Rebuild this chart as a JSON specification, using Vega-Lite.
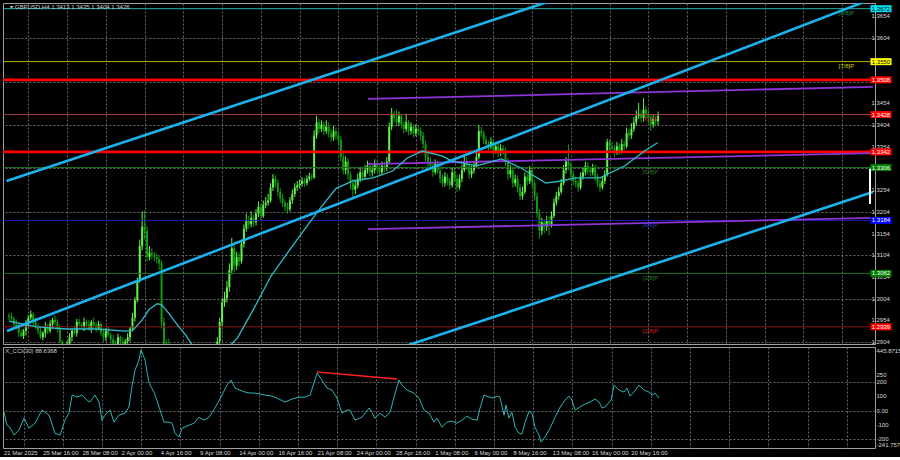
{
"$schema": "https://vega.github.io/schema/vega-lite/v6.json",
"background": "#000000",
"padding": {"left": 2, "top": 2, "right": 0, "bottom": 0},
"spacing": 3,
"bounds": "flush",
"config": {
  "view": {"fill": "#000000", "stroke": "#a0a0a0", "strokeWidth": 1},
  "font": "Liberation Sans",
  "axis": {"labels": false, "domain": false, "ticks": false, "gridColor": "#6a6a6a", "gridDash": [2, 2], "gridWidth": 1},
  "text": {"font": "Liberation Sans"},
  "legend": {"disable": true}
},
"datasets": {
  "bars": [
{"i":0,"o":1.2965,"h":1.2971,"l":1.2954,"c":1.2962},{"i":1,"o":1.2962,"h":1.2971,"l":1.2953,"c":1.2958},{"i":2,"o":1.2958,"h":1.2963,"l":1.2935,"c":1.2945},{"i":3,"o":1.2945,"h":1.2956,"l":1.2934,"c":1.2940},{"i":4,"o":1.2940,"h":1.2947,"l":1.2916,"c":1.2925},{"i":5,"o":1.2925,"h":1.2933,"l":1.2914,"c":1.2918},{"i":6,"o":1.2918,"h":1.2934,"l":1.2911,"c":1.2930},{"i":7,"o":1.2930,"h":1.2955,"l":1.2919,"c":1.2945},{"i":8,"o":1.2945,"h":1.2966,"l":1.2937,"c":1.2960},{"i":9,"o":1.2960,"h":1.2977,"l":1.2955,"c":1.2968},
{"i":10,"o":1.2968,"h":1.2973,"l":1.2940,"c":1.2950},{"i":11,"o":1.2950,"h":1.2961,"l":1.2934,"c":1.2940},{"i":12,"o":1.2940,"h":1.2947,"l":1.2921,"c":1.2930},{"i":13,"o":1.2930,"h":1.2938,"l":1.2911,"c":1.2915},{"i":14,"o":1.2915,"h":1.2929,"l":1.2908,"c":1.2925},{"i":15,"o":1.2925,"h":1.2950,"l":1.2914,"c":1.2940},{"i":16,"o":1.2940,"h":1.2946,"l":1.2922,"c":1.2930},{"i":17,"o":1.2930,"h":1.2954,"l":1.2925,"c":1.2945},{"i":18,"o":1.2945,"h":1.2960,"l":1.2935,"c":1.2955},{"i":19,"o":1.2955,"h":1.2966,"l":1.2944,"c":1.2950},
{"i":20,"o":1.2950,"h":1.2957,"l":1.2926,"c":1.2935},{"i":21,"o":1.2935,"h":1.2943,"l":1.2901,"c":1.2905},{"i":22,"o":1.2905,"h":1.2909,"l":1.2878,"c":1.2885},{"i":23,"o":1.2885,"h":1.2895,"l":1.2869,"c":1.2880},{"i":24,"o":1.2880,"h":1.2906,"l":1.2872,"c":1.2900},{"i":25,"o":1.2900,"h":1.2924,"l":1.2895,"c":1.2915},{"i":26,"o":1.2915,"h":1.2935,"l":1.2905,"c":1.2930},{"i":27,"o":1.2930,"h":1.2941,"l":1.2919,"c":1.2925},{"i":28,"o":1.2925,"h":1.2957,"l":1.2916,"c":1.2950},{"i":29,"o":1.2950,"h":1.2958,"l":1.2941,"c":1.2945},
{"i":30,"o":1.2945,"h":1.2949,"l":1.2933,"c":1.2940},{"i":31,"o":1.2940,"h":1.2960,"l":1.2929,"c":1.2950},{"i":32,"o":1.2950,"h":1.2956,"l":1.2937,"c":1.2945},{"i":33,"o":1.2945,"h":1.2954,"l":1.2930,"c":1.2935},{"i":34,"o":1.2935,"h":1.2955,"l":1.2925,"c":1.2950},{"i":35,"o":1.2950,"h":1.2961,"l":1.2936,"c":1.2942},{"i":36,"o":1.2942,"h":1.2949,"l":1.2926,"c":1.2935},{"i":37,"o":1.2935,"h":1.2953,"l":1.2931,"c":1.2945},{"i":38,"o":1.2945,"h":1.2949,"l":1.2918,"c":1.2925},{"i":39,"o":1.2925,"h":1.2935,"l":1.2904,"c":1.2915},
{"i":40,"o":1.2915,"h":1.2936,"l":1.2907,"c":1.2930},{"i":41,"o":1.2930,"h":1.2939,"l":1.2915,"c":1.2920},{"i":42,"o":1.2920,"h":1.2925,"l":1.2900,"c":1.2910},{"i":43,"o":1.2910,"h":1.2921,"l":1.2894,"c":1.2900},{"i":44,"o":1.2900,"h":1.2907,"l":1.2886,"c":1.2895},{"i":45,"o":1.2895,"h":1.2923,"l":1.2891,"c":1.2915},{"i":46,"o":1.2915,"h":1.2919,"l":1.2898,"c":1.2905},{"i":47,"o":1.2905,"h":1.2915,"l":1.2889,"c":1.2900},{"i":48,"o":1.2900,"h":1.2911,"l":1.2892,"c":1.2905},{"i":49,"o":1.2905,"h":1.2924,"l":1.2900,"c":1.2915},
{"i":50,"o":1.2915,"h":1.2940,"l":1.2905,"c":1.2935},{"i":51,"o":1.2935,"h":1.2971,"l":1.2929,"c":1.2960},{"i":52,"o":1.2960,"h":1.3007,"l":1.2951,"c":1.3000},{"i":53,"o":1.3000,"h":1.3053,"l":1.2996,"c":1.3045},{"i":54,"o":1.3045,"h":1.3140,"l":1.3040,"c":1.3125},{"i":55,"o":1.3125,"h":1.3205,"l":1.3115,"c":1.3170},{"i":56,"o":1.3170,"h":1.3207,"l":1.3140,"c":1.3160},{"i":57,"o":1.3160,"h":1.3172,"l":1.3090,"c":1.3100},{"i":58,"o":1.3100,"h":1.3125,"l":1.3092,"c":1.3110},{"i":59,"o":1.3110,"h":1.3120,"l":1.3095,"c":1.3105},
{"i":60,"o":1.3105,"h":1.3112,"l":1.3090,"c":1.3100},{"i":61,"o":1.3100,"h":1.3108,"l":1.3085,"c":1.3095},{"i":62,"o":1.3095,"h":1.3102,"l":1.3070,"c":1.3085},{"i":63,"o":1.3085,"h":1.3092,"l":1.2935,"c":1.2950},{"i":64,"o":1.2950,"h":1.2960,"l":1.2880,"c":1.2900},{"i":65,"o":1.2900,"h":1.2910,"l":1.2860,"c":1.2880},{"i":66,"o":1.2880,"h":1.2912,"l":1.2820,"c":1.2840},{"i":67,"o":1.2840,"h":1.2850,"l":1.2740,"c":1.2760},{"i":68,"o":1.2760,"h":1.2775,"l":1.2710,"c":1.2730},{"i":69,"o":1.2730,"h":1.2800,"l":1.2720,"c":1.2780},
{"i":70,"o":1.2780,"h":1.2795,"l":1.2745,"c":1.2760},{"i":71,"o":1.2760,"h":1.2785,"l":1.2750,"c":1.2770},{"i":72,"o":1.2770,"h":1.2800,"l":1.2760,"c":1.2790},{"i":73,"o":1.2790,"h":1.2825,"l":1.2780,"c":1.2810},{"i":74,"o":1.2810,"h":1.2850,"l":1.2800,"c":1.2830},{"i":75,"o":1.2830,"h":1.2840,"l":1.2790,"c":1.2800},{"i":76,"o":1.2800,"h":1.2810,"l":1.2760,"c":1.2770},{"i":77,"o":1.2770,"h":1.2780,"l":1.2745,"c":1.2760},{"i":78,"o":1.2760,"h":1.2770,"l":1.2725,"c":1.2740},{"i":79,"o":1.2740,"h":1.2750,"l":1.2705,"c":1.2720},
{"i":80,"o":1.2720,"h":1.2745,"l":1.2710,"c":1.2735},{"i":81,"o":1.2735,"h":1.2810,"l":1.2725,"c":1.2790},{"i":82,"o":1.2790,"h":1.2850,"l":1.2780,"c":1.2830},{"i":83,"o":1.2830,"h":1.2845,"l":1.2805,"c":1.2820},{"i":84,"o":1.2820,"h":1.2875,"l":1.2810,"c":1.2860},{"i":85,"o":1.2860,"h":1.2895,"l":1.2850,"c":1.2880},{"i":86,"o":1.2880,"h":1.2915,"l":1.2870,"c":1.2905},{"i":87,"o":1.2905,"h":1.2960,"l":1.2895,"c":1.2950},{"i":88,"o":1.2950,"h":1.3005,"l":1.2940,"c":1.2995},{"i":89,"o":1.2995,"h":1.3020,"l":1.2985,"c":1.3005},
{"i":90,"o":1.3005,"h":1.3045,"l":1.2995,"c":1.3030},{"i":91,"o":1.3030,"h":1.3085,"l":1.3020,"c":1.3070},{"i":92,"o":1.3070,"h":1.3144,"l":1.3060,"c":1.3120},{"i":93,"o":1.3120,"h":1.3130,"l":1.3065,"c":1.3080},{"i":94,"o":1.3080,"h":1.3112,"l":1.3070,"c":1.3100},{"i":95,"o":1.3100,"h":1.3110,"l":1.3078,"c":1.3090},{"i":96,"o":1.3090,"h":1.3140,"l":1.3085,"c":1.3130},{"i":97,"o":1.3130,"h":1.3175,"l":1.3122,"c":1.3165},{"i":98,"o":1.3165,"h":1.3200,"l":1.3158,"c":1.3185},{"i":99,"o":1.3185,"h":1.3195,"l":1.3165,"c":1.3175},
{"i":100,"o":1.3175,"h":1.3205,"l":1.3168,"c":1.3190},{"i":101,"o":1.3190,"h":1.3198,"l":1.3170,"c":1.3180},{"i":102,"o":1.3180,"h":1.3210,"l":1.3172,"c":1.3200},{"i":103,"o":1.3200,"h":1.3228,"l":1.3192,"c":1.3215},{"i":104,"o":1.3215,"h":1.3222,"l":1.3185,"c":1.3195},{"i":105,"o":1.3195,"h":1.3230,"l":1.3190,"c":1.3220},{"i":106,"o":1.3220,"h":1.3238,"l":1.3212,"c":1.3225},{"i":107,"o":1.3225,"h":1.3245,"l":1.3218,"c":1.3230},{"i":108,"o":1.3230,"h":1.3270,"l":1.3225,"c":1.3260},{"i":109,"o":1.3260,"h":1.3291,"l":1.3252,"c":1.3280},
{"i":110,"o":1.3280,"h":1.3288,"l":1.3260,"c":1.3270},{"i":111,"o":1.3270,"h":1.3278,"l":1.3240,"c":1.3250},{"i":112,"o":1.3250,"h":1.3258,"l":1.3225,"c":1.3235},{"i":113,"o":1.3235,"h":1.3245,"l":1.3215,"c":1.3225},{"i":114,"o":1.3225,"h":1.3232,"l":1.3205,"c":1.3215},{"i":115,"o":1.3215,"h":1.3225,"l":1.3200,"c":1.3210},{"i":116,"o":1.3210,"h":1.3238,"l":1.3205,"c":1.3230},{"i":117,"o":1.3230,"h":1.3255,"l":1.3222,"c":1.3245},{"i":118,"o":1.3245,"h":1.3270,"l":1.3238,"c":1.3260},{"i":119,"o":1.3260,"h":1.3275,"l":1.3252,"c":1.3265},
{"i":120,"o":1.3265,"h":1.3278,"l":1.3258,"c":1.3268},{"i":121,"o":1.3268,"h":1.3284,"l":1.3262,"c":1.3275},{"i":122,"o":1.3275,"h":1.3282,"l":1.3262,"c":1.3270},{"i":123,"o":1.3270,"h":1.3288,"l":1.3265,"c":1.3280},{"i":124,"o":1.3280,"h":1.3294,"l":1.3275,"c":1.3285},{"i":125,"o":1.3285,"h":1.3292,"l":1.3276,"c":1.3283},{"i":126,"o":1.3283,"h":1.3392,"l":1.3280,"c":1.3380},{"i":127,"o":1.3380,"h":1.3425,"l":1.3372,"c":1.3410},{"i":128,"o":1.3410,"h":1.3418,"l":1.3385,"c":1.3395},{"i":129,"o":1.3395,"h":1.3415,"l":1.3388,"c":1.3405},
{"i":130,"o":1.3405,"h":1.3412,"l":1.3380,"c":1.3390},{"i":131,"o":1.3390,"h":1.3415,"l":1.3384,"c":1.3400},{"i":132,"o":1.3400,"h":1.3410,"l":1.3375,"c":1.3385},{"i":133,"o":1.3385,"h":1.3395,"l":1.3365,"c":1.3375},{"i":134,"o":1.3375,"h":1.3402,"l":1.3368,"c":1.3390},{"i":135,"o":1.3390,"h":1.3398,"l":1.3370,"c":1.3380},{"i":136,"o":1.3380,"h":1.3390,"l":1.3360,"c":1.3370},{"i":137,"o":1.3370,"h":1.3378,"l":1.3320,"c":1.3330},{"i":138,"o":1.3330,"h":1.3340,"l":1.3290,"c":1.3300},{"i":139,"o":1.3300,"h":1.3332,"l":1.3290,"c":1.3320},
{"i":140,"o":1.3320,"h":1.3328,"l":1.3278,"c":1.3290},{"i":141,"o":1.3290,"h":1.3298,"l":1.3255,"c":1.3270},{"i":142,"o":1.3270,"h":1.3280,"l":1.3233,"c":1.3255},{"i":143,"o":1.3255,"h":1.3278,"l":1.3245,"c":1.3265},{"i":144,"o":1.3265,"h":1.3292,"l":1.3258,"c":1.3280},{"i":145,"o":1.3280,"h":1.3308,"l":1.3272,"c":1.3295},{"i":146,"o":1.3295,"h":1.3302,"l":1.3275,"c":1.3285},{"i":147,"o":1.3285,"h":1.3312,"l":1.3278,"c":1.3300},{"i":148,"o":1.3300,"h":1.3322,"l":1.3292,"c":1.3310},{"i":149,"o":1.3310,"h":1.3318,"l":1.3285,"c":1.3295},
{"i":150,"o":1.3295,"h":1.3310,"l":1.3285,"c":1.3300},{"i":151,"o":1.3300,"h":1.3325,"l":1.3292,"c":1.3315},{"i":152,"o":1.3315,"h":1.3322,"l":1.3296,"c":1.3305},{"i":153,"o":1.3305,"h":1.3312,"l":1.3285,"c":1.3295},{"i":154,"o":1.3295,"h":1.3320,"l":1.3288,"c":1.3310},{"i":155,"o":1.3310,"h":1.3318,"l":1.3296,"c":1.3305},{"i":156,"o":1.3305,"h":1.3330,"l":1.3298,"c":1.3320},{"i":157,"o":1.3320,"h":1.3410,"l":1.3315,"c":1.3400},{"i":158,"o":1.3400,"h":1.3443,"l":1.3392,"c":1.3430},{"i":159,"o":1.3430,"h":1.3436,"l":1.3410,"c":1.3420},
{"i":160,"o":1.3420,"h":1.3440,"l":1.3400,"c":1.3410},{"i":161,"o":1.3410,"h":1.3435,"l":1.3402,"c":1.3425},{"i":162,"o":1.3425,"h":1.3430,"l":1.3396,"c":1.3405},{"i":163,"o":1.3405,"h":1.3412,"l":1.3385,"c":1.3395},{"i":164,"o":1.3395,"h":1.3430,"l":1.3388,"c":1.3410},{"i":165,"o":1.3410,"h":1.3415,"l":1.3380,"c":1.3390},{"i":166,"o":1.3390,"h":1.3410,"l":1.3382,"c":1.3400},{"i":167,"o":1.3400,"h":1.3405,"l":1.3375,"c":1.3385},{"i":168,"o":1.3385,"h":1.3405,"l":1.3378,"c":1.3395},{"i":169,"o":1.3395,"h":1.3402,"l":1.3380,"c":1.3390},
{"i":170,"o":1.3390,"h":1.3398,"l":1.3368,"c":1.3380},{"i":171,"o":1.3380,"h":1.3388,"l":1.3350,"c":1.3360},{"i":172,"o":1.3360,"h":1.3368,"l":1.3320,"c":1.3330},{"i":173,"o":1.3330,"h":1.3340,"l":1.3305,"c":1.3320},{"i":174,"o":1.3320,"h":1.3330,"l":1.3300,"c":1.3310},{"i":175,"o":1.3310,"h":1.3318,"l":1.3285,"c":1.3295},{"i":176,"o":1.3295,"h":1.3325,"l":1.3290,"c":1.3315},{"i":177,"o":1.3315,"h":1.3322,"l":1.3292,"c":1.3300},{"i":178,"o":1.3300,"h":1.3308,"l":1.3270,"c":1.3280},{"i":179,"o":1.3280,"h":1.3290,"l":1.3262,"c":1.3270},
{"i":180,"o":1.3270,"h":1.3295,"l":1.3262,"c":1.3285},{"i":181,"o":1.3285,"h":1.3292,"l":1.3265,"c":1.3275},{"i":182,"o":1.3275,"h":1.3282,"l":1.3255,"c":1.3265},{"i":183,"o":1.3265,"h":1.3305,"l":1.3260,"c":1.3295},{"i":184,"o":1.3295,"h":1.3302,"l":1.3272,"c":1.3280},{"i":185,"o":1.3280,"h":1.3288,"l":1.3250,"c":1.3260},{"i":186,"o":1.3260,"h":1.3290,"l":1.3255,"c":1.3280},{"i":187,"o":1.3280,"h":1.3312,"l":1.3272,"c":1.3300},{"i":188,"o":1.3300,"h":1.3337,"l":1.3295,"c":1.3320},{"i":189,"o":1.3320,"h":1.3330,"l":1.3300,"c":1.3310},
{"i":190,"o":1.3310,"h":1.3318,"l":1.3280,"c":1.3290},{"i":191,"o":1.3290,"h":1.3310,"l":1.3282,"c":1.3300},{"i":192,"o":1.3300,"h":1.3320,"l":1.3292,"c":1.3310},{"i":193,"o":1.3310,"h":1.3342,"l":1.3305,"c":1.3330},{"i":194,"o":1.3330,"h":1.3404,"l":1.3325,"c":1.3390},{"i":195,"o":1.3390,"h":1.3400,"l":1.3375,"c":1.3385},{"i":196,"o":1.3385,"h":1.3392,"l":1.3360,"c":1.3370},{"i":197,"o":1.3370,"h":1.3378,"l":1.3350,"c":1.3360},{"i":198,"o":1.3360,"h":1.3368,"l":1.3345,"c":1.3355},{"i":199,"o":1.3355,"h":1.3375,"l":1.3348,"c":1.3365},
{"i":200,"o":1.3365,"h":1.3372,"l":1.3335,"c":1.3345},{"i":201,"o":1.3345,"h":1.3365,"l":1.3338,"c":1.3355},{"i":202,"o":1.3355,"h":1.3362,"l":1.3330,"c":1.3340},{"i":203,"o":1.3340,"h":1.3360,"l":1.3332,"c":1.3350},{"i":204,"o":1.3350,"h":1.3358,"l":1.3335,"c":1.3345},{"i":205,"o":1.3345,"h":1.3352,"l":1.3310,"c":1.3320},{"i":206,"o":1.3320,"h":1.3328,"l":1.3278,"c":1.3290},{"i":207,"o":1.3290,"h":1.3312,"l":1.3282,"c":1.3300},{"i":208,"o":1.3300,"h":1.3308,"l":1.3260,"c":1.3270},{"i":209,"o":1.3270,"h":1.3290,"l":1.3262,"c":1.3280},
{"i":210,"o":1.3280,"h":1.3288,"l":1.3248,"c":1.3260},{"i":211,"o":1.3260,"h":1.3268,"l":1.3230,"c":1.3240},{"i":212,"o":1.3240,"h":1.3262,"l":1.3232,"c":1.3250},{"i":213,"o":1.3250,"h":1.3295,"l":1.3245,"c":1.3285},{"i":214,"o":1.3285,"h":1.3292,"l":1.3265,"c":1.3275},{"i":215,"o":1.3275,"h":1.3310,"l":1.3268,"c":1.3300},{"i":216,"o":1.3300,"h":1.3308,"l":1.3260,"c":1.3270},{"i":217,"o":1.3270,"h":1.3278,"l":1.3230,"c":1.3240},{"i":218,"o":1.3240,"h":1.3248,"l":1.3190,"c":1.3200},{"i":219,"o":1.3200,"h":1.3210,"l":1.3142,"c":1.3160},
{"i":220,"o":1.3160,"h":1.3190,"l":1.3150,"c":1.3180},{"i":221,"o":1.3180,"h":1.3188,"l":1.3155,"c":1.3170},{"i":222,"o":1.3170,"h":1.3195,"l":1.3160,"c":1.3185},{"i":223,"o":1.3185,"h":1.3192,"l":1.3150,"c":1.3175},{"i":224,"o":1.3175,"h":1.3205,"l":1.3168,"c":1.3195},{"i":225,"o":1.3195,"h":1.3235,"l":1.3190,"c":1.3225},{"i":226,"o":1.3225,"h":1.3250,"l":1.3218,"c":1.3240},{"i":227,"o":1.3240,"h":1.3262,"l":1.3232,"c":1.3250},{"i":228,"o":1.3250,"h":1.3280,"l":1.3245,"c":1.3270},{"i":229,"o":1.3270,"h":1.3312,"l":1.3265,"c":1.3300},
{"i":230,"o":1.3300,"h":1.3330,"l":1.3292,"c":1.3320},{"i":231,"o":1.3320,"h":1.3360,"l":1.3300,"c":1.3310},{"i":232,"o":1.3310,"h":1.3318,"l":1.3280,"c":1.3290},{"i":233,"o":1.3290,"h":1.3298,"l":1.3265,"c":1.3275},{"i":234,"o":1.3275,"h":1.3285,"l":1.3260,"c":1.3270},{"i":235,"o":1.3270,"h":1.3278,"l":1.3250,"c":1.3260},{"i":236,"o":1.3260,"h":1.3295,"l":1.3255,"c":1.3285},{"i":237,"o":1.3285,"h":1.3305,"l":1.3278,"c":1.3295},{"i":238,"o":1.3295,"h":1.3320,"l":1.3288,"c":1.3310},{"i":239,"o":1.3310,"h":1.3318,"l":1.3290,"c":1.3300},
{"i":240,"o":1.3300,"h":1.3308,"l":1.3285,"c":1.3295},{"i":241,"o":1.3295,"h":1.3315,"l":1.3288,"c":1.3305},{"i":242,"o":1.3305,"h":1.3312,"l":1.3275,"c":1.3285},{"i":243,"o":1.3285,"h":1.3292,"l":1.3262,"c":1.3270},{"i":244,"o":1.3270,"h":1.3278,"l":1.3250,"c":1.3260},{"i":245,"o":1.3260,"h":1.3285,"l":1.3255,"c":1.3275},{"i":246,"o":1.3275,"h":1.3300,"l":1.3268,"c":1.3290},{"i":247,"o":1.3290,"h":1.3372,"l":1.3285,"c":1.3365},{"i":248,"o":1.3365,"h":1.3372,"l":1.3345,"c":1.3355},{"i":249,"o":1.3355,"h":1.3365,"l":1.3340,"c":1.3350},
{"i":250,"o":1.3350,"h":1.3358,"l":1.3330,"c":1.3340},{"i":251,"o":1.3340,"h":1.3365,"l":1.3335,"c":1.3355},{"i":252,"o":1.3355,"h":1.3362,"l":1.3335,"c":1.3345},{"i":253,"o":1.3345,"h":1.3372,"l":1.3338,"c":1.3360},{"i":254,"o":1.3360,"h":1.3368,"l":1.3345,"c":1.3355},{"i":255,"o":1.3355,"h":1.3398,"l":1.3350,"c":1.3385},{"i":256,"o":1.3385,"h":1.3395,"l":1.3370,"c":1.3380},{"i":257,"o":1.3380,"h":1.3408,"l":1.3372,"c":1.3395},{"i":258,"o":1.3395,"h":1.3422,"l":1.3388,"c":1.3410},{"i":259,"o":1.3410,"h":1.3438,"l":1.3402,"c":1.3425},
{"i":260,"o":1.3425,"h":1.3455,"l":1.3418,"c":1.3430},{"i":261,"o":1.3430,"h":1.3438,"l":1.3410,"c":1.3420},{"i":262,"o":1.3420,"h":1.3466,"l":1.3412,"c":1.3440},{"i":263,"o":1.3440,"h":1.3448,"l":1.3418,"c":1.3430},{"i":264,"o":1.3430,"h":1.3438,"l":1.3408,"c":1.3420},{"i":265,"o":1.3420,"h":1.3428,"l":1.3390,"c":1.3405},{"i":266,"o":1.3405,"h":1.3428,"l":1.3398,"c":1.3418},{"i":267,"o":1.3418,"h":1.3425,"l":1.3402,"c":1.3413},{"i":268,"o":1.3413,"h":1.3435,"l":1.3404,"c":1.3426}
  ],
  "ma": [
{"i":0,"p":1.2952},{"i":11.4,"p":1.2939},{"i":23.7,"p":1.2934},{"i":35.9,"p":1.2934},{"i":48.2,"p":1.2929},{"i":51,"p":1.2930},{"i":55,"p":1.2955},{"i":58,"p":1.2980},{"i":61.2,"p":1.2992},{"i":63,"p":1.2990},{"i":66,"p":1.2970},{"i":70,"p":1.2940},{"i":73,"p":1.2920},{"i":75.9,"p":1.2895},{"i":80.8,"p":1.2855},{"i":85.7,"p":1.2845},{"i":89,"p":1.2870},{"i":91.8,"p":1.2899},{"i":94.3,"p":1.2913},{"i":101.2,"p":1.2982},{"i":108.2,"p":1.3056},{"i":114.7,"p":1.3107},{"i":121.6,"p":1.3160},{"i":128.6,"p":1.3213},{"i":135.1,"p":1.3258},{"i":142,"p":1.3275},{"i":150.2,"p":1.3282},{"i":158.4,"p":1.3298},{"i":164.5,"p":1.3328},{"i":170.6,"p":1.3344},{"i":178.8,"p":1.3333},{"i":182.9,"p":1.3321},{"i":193.1,"p":1.3310},{"i":203.3,"p":1.3326},{"i":211.4,"p":1.3305},{"i":221.6,"p":1.3270},{"i":227.8,"p":1.3275},{"i":233.9,"p":1.3282},{"i":244,"p":1.3282},{"i":254.3,"p":1.3310},{"i":262.4,"p":1.3344},{"i":267.8,"p":1.3363}
  ],
  "chan": [
{"g":"a","i":-1,"p":1.3275},{"g":"a","i":240,"p":1.3720},
{"g":"b","i":-0.8,"p":1.29293},{"g":"b","i":356.7,"p":1.36953},
{"g":"c","i":160,"p":1.2888},{"g":"c","i":356.7,"p":1.32496}
  ],
  "purple": [
{"g":"u","i":148.2,"p":1.3464},{"g":"u","i":356.7,"p":1.3492},
{"g":"m","i":148.2,"p":1.3314},{"g":"m","i":356.7,"p":1.3339},
{"g":"l","i":148.2,"p":1.3164},{"g":"l","i":356.7,"p":1.3190}
  ],
  "levels": [
{"name":"[8/8]P","p":1.3672},{"name":"[7/8]P","p":1.3550},{"name":"[6/8]P","p":1.3428},{"name":"[5/8]P","p":1.3306},{"name":"[4/8]P","p":1.3184},{"name":"[3/8]P","p":1.3062},{"name":"[2/8]P","p":1.2939}
  ],
  "redlines": [{"p":1.3508},{"p":1.3342}],
  "tags": [{"p":1.3672},{"p":1.3550},{"p":1.3508},{"p":1.3428},{"p":1.3342},{"p":1.3306},{"p":1.3184},{"p":1.3062},{"p":1.2939}],
  "pticks": [{"v":1.2904},{"v":1.2954},{"v":1.3004},{"v":1.3054},{"v":1.3104},{"v":1.3154},{"v":1.3204},{"v":1.3254},{"v":1.3354},{"v":1.3404},{"v":1.3454},{"v":1.3604},{"v":1.3654}],
  "cticks": [{"v":250,"t":"250"},{"v":200,"t":"200"},{"v":100,"t":"100"},{"v":0,"t":"0.00"},{"v":-100,"t":"-100"},{"v":-200,"t":"-200"}],
  "dates": [{"i":0,"t":"21 Mar 2025"},{"i":16,"t":"25 Mar 16:00"},{"i":32,"t":"28 Mar 08:00"},{"i":48,"t":"2 Apr 00:00"},{"i":64,"t":"4 Apr 16:00"},{"i":80,"t":"9 Apr 08:00"},{"i":96,"t":"14 Apr 00:00"},{"i":112,"t":"16 Apr 16:00"},{"i":128,"t":"21 Apr 08:00"},{"i":144,"t":"24 Apr 00:00"},{"i":160,"t":"28 Apr 16:00"},{"i":176,"t":"1 May 08:00"},{"i":192,"t":"6 May 00:00"},{"i":208,"t":"8 May 16:00"},{"i":224,"t":"13 May 08:00"},{"i":240,"t":"16 May 00:00"},{"i":256,"t":"20 May 16:00"}],
  "cci": [
{"i":0,"v":-8},{"i":1.2,"v":-102},{"i":2.4,"v":-116},{"i":4.1,"v":-172},{"i":6.1,"v":-137},{"i":8.2,"v":-53},{"i":10.2,"v":-123},{"i":12.7,"v":-88},{"i":15.5,"v":4},{"i":18.4,"v":-32},{"i":20.8,"v":-158},{"i":22.9,"v":-172},{"i":24.9,"v":-67},{"i":26.5,"v":-18},{"i":27.8,"v":109},{"i":29.8,"v":95},{"i":31.8,"v":109},{"i":33.9,"v":74},{"i":35.1,"v":60},{"i":37.1,"v":109},{"i":38.8,"v":60},{"i":40,"v":-67},{"i":41.2,"v":-32},{"i":43.3,"v":4},{"i":44.9,"v":-81},{"i":46.9,"v":-32},{"i":49.4,"v":-18},{"i":51,"v":25},{"i":52.2,"v":165},{"i":53.5,"v":284},{"i":55.1,"v":354},{"i":55.9,"v":425},{"i":57.6,"v":354},{"i":59.2,"v":193},{"i":61.2,"v":130},{"i":62.4,"v":74},{"i":63.7,"v":4},{"i":65.3,"v":-81},{"i":67.3,"v":-81},{"i":68.6,"v":-88},{"i":69.8,"v":-158},{"i":71.4,"v":-186},{"i":72.7,"v":-123},{"i":75.5,"v":-102},{"i":77.6,"v":-88},{"i":79.6,"v":-46},{"i":81.6,"v":-67},{"i":83.7,"v":-46},{"i":86.1,"v":18},{"i":89,"v":109},{"i":91,"v":179},{"i":92.7,"v":214},{"i":94.3,"v":158},{"i":96.3,"v":144},{"i":98.4,"v":130},{"i":100.4,"v":123},{"i":102.4,"v":123},{"i":104.5,"v":116},{"i":106.5,"v":109},{"i":109.4,"v":102},{"i":111.4,"v":88},{"i":114.7,"v":60},{"i":117.6,"v":81},{"i":120.4,"v":95},{"i":122.9,"v":95},{"i":124.9,"v":109},{"i":126.5,"v":193},{"i":127.8,"v":263},{"i":129.8,"v":214},{"i":131.8,"v":158},{"i":133.9,"v":144},{"i":135.9,"v":88},{"i":138,"v":-18},{"i":140,"v":4},{"i":141.2,"v":4},{"i":143.3,"v":-67},{"i":146.1,"v":-46},{"i":149,"v":18},{"i":150.2,"v":-11},{"i":151.4,"v":-53},{"i":153.5,"v":-18},{"i":155.5,"v":-46},{"i":157.6,"v":-11},{"i":159.2,"v":95},{"i":161.2,"v":214},{"i":162.4,"v":179},{"i":164.5,"v":144},{"i":167.3,"v":123},{"i":169.4,"v":88},{"i":171.4,"v":4},{"i":173.5,"v":-18},{"i":175.5,"v":-81},{"i":176.7,"v":-53},{"i":178.8,"v":-116},{"i":180.8,"v":-81},{"i":182.9,"v":-74},{"i":184.9,"v":-88},{"i":186.9,"v":-67},{"i":189,"v":-39},{"i":191,"v":-60},{"i":193.1,"v":-67},{"i":194.3,"v":18},{"i":195.9,"v":109},{"i":198,"v":95},{"i":200,"v":88},{"i":201.2,"v":102},{"i":202.4,"v":95},{"i":204.1,"v":-32},{"i":204.9,"v":39},{"i":206.1,"v":-53},{"i":207.3,"v":-11},{"i":208.6,"v":-116},{"i":210.2,"v":-158},{"i":211.4,"v":-165},{"i":212.7,"v":-81},{"i":214.3,"v":-4},{"i":215.5,"v":-18},{"i":216.7,"v":-116},{"i":218.4,"v":-172},{"i":219.2,"v":-221},{"i":220.8,"v":-186},{"i":222.9,"v":-123},{"i":224.9,"v":-46},{"i":227,"v":25},{"i":229,"v":74},{"i":230.6,"v":102},{"i":231.8,"v":74},{"i":233.1,"v":4},{"i":235.1,"v":25},{"i":237.1,"v":46},{"i":239.2,"v":60},{"i":241.2,"v":81},{"i":242.9,"v":60},{"i":244.1,"v":18},{"i":245.3,"v":25},{"i":247,"v":60},{"i":247.8,"v":74},{"i":249,"v":179},{"i":251,"v":144},{"i":253.1,"v":130},{"i":254.3,"v":158},{"i":255.5,"v":102},{"i":257.1,"v":130},{"i":259.2,"v":179},{"i":261.2,"v":144},{"i":263.3,"v":130},{"i":264.5,"v":109},{"i":265.7,"v":123},{"i":267.3,"v":88.6}
  ],
  "div": [{"i":127.8,"v":270},{"i":160.4,"v":221}],
  "one": [{}]
},
"vconcat": [
{
  "width": 872,
  "height": 341,
  "layer": [
    {
      "data": {"name": "bars"},
      "mark": {"type": "rule", "strokeWidth": 1, "clip": true},
      "encoding": {
        "x": {"field": "i", "type": "quantitative", "scale": {"domain": [-0.4, 355.5], "nice": false, "zero": false},
              "axis": {"orient": "bottom", "values": [8,16,24,32,40,48,56,64,72,80,88,96,104,112,120,128,136,144,152,160,168,176,184,192,200,208,216,224,232,240,248,256,264,272,280,288,296,304,312,320,328,336,344,352], "labels": false, "ticks": false, "domain": false, "grid": true, "title": null}},
        "y": {"field": "l", "type": "quantitative", "scale": {"domain": [1.28994, 1.36851], "nice": false, "zero": false},
              "axis": {"orient": "right", "values": [1.2904,1.2954,1.3004,1.3054,1.3104,1.3154,1.3204,1.3254,1.3304,1.3354,1.3404,1.3454,1.3504,1.3554,1.3604,1.3654], "labels": false, "ticks": false, "domain": false, "grid": true, "title": null}},
        "y2": {"field": "h"},
        "color": {"condition": {"test": "datum.c >= datum.o", "value": "#62f24a"}, "value": "#139913"}
      }
    },
    {
      "data": {"name": "bars"},
      "mark": {"type": "bar", "size": 2, "clip": true},
      "encoding": {
        "x": {"field": "i", "type": "quantitative", "scale": {"domain": [-0.4, 355.5], "nice": false, "zero": false}},
        "y": {"field": "o", "type": "quantitative", "scale": {"domain": [1.28994, 1.36851], "nice": false, "zero": false}},
        "y2": {"field": "c"},
        "color": {"condition": {"test": "datum.c >= datum.o", "value": "#62f24a"}, "value": "#139913"}
      }
    },
    {
      "data": {"name": "levels"},
      "mark": {"type": "rule", "strokeWidth": 1, "clip": true},
      "encoding": {
        "y": {"field": "p", "type": "quantitative", "scale": {"domain": [1.28994, 1.36851], "nice": false, "zero": false}},
        "color": {"condition": [
          {"test": "datum.p == 1.3672", "value": "#1fb0b0"},
          {"test": "datum.p == 1.355", "value": "#b4b400"},
          {"test": "datum.p == 1.3428", "value": "#a84040"},
          {"test": "datum.p == 1.3306 || datum.p == 1.3062", "value": "#1a701a"},
          {"test": "datum.p == 1.3184", "value": "#1c1ca8"}
        ], "value": "#8a1414"}
      }
    },
    {
      "data": {"name": "redlines"},
      "mark": {"type": "rule", "strokeWidth": 2.6, "color": "#ff0000", "clip": true},
      "encoding": {
        "y": {"field": "p", "type": "quantitative", "scale": {"domain": [1.28994, 1.36851], "nice": false, "zero": false}}
      }
    },
    {
      "data": {"name": "purple"},
      "mark": {"type": "line", "strokeWidth": 1.8, "color": "#8d35d6", "clip": true},
      "encoding": {
        "x": {"field": "i", "type": "quantitative", "scale": {"domain": [-0.4, 355.5], "nice": false, "zero": false}},
        "y": {"field": "p", "type": "quantitative", "scale": {"domain": [1.28994, 1.36851], "nice": false, "zero": false}},
        "detail": {"field": "g"}
      }
    },
    {
      "data": {"name": "ma"},
      "mark": {"type": "line", "strokeWidth": 1.3, "color": "#2dbdc9", "clip": true},
      "encoding": {
        "x": {"field": "i", "type": "quantitative", "scale": {"domain": [-0.4, 355.5], "nice": false, "zero": false}},
        "y": {"field": "p", "type": "quantitative", "scale": {"domain": [1.28994, 1.36851], "nice": false, "zero": false}}
      }
    },
    {
      "data": {"name": "chan"},
      "mark": {"type": "line", "strokeWidth": 2.6, "color": "#1cb2ec", "clip": true},
      "encoding": {
        "x": {"field": "i", "type": "quantitative", "scale": {"domain": [-0.4, 355.5], "nice": false, "zero": false}},
        "y": {"field": "p", "type": "quantitative", "scale": {"domain": [1.28994, 1.36851], "nice": false, "zero": false}},
        "detail": {"field": "g"}
      }
    },
    {
      "data": {"name": "levels"},
      "transform": [{"filter": "datum.p > 1.354"}],
      "mark": {"type": "text", "align": "left", "baseline": "top", "dy": 1.5, "fontSize": 6, "clip": false},
      "encoding": {
        "x": {"datum": 342.5, "type": "quantitative", "scale": {"domain": [-0.4, 355.5], "nice": false, "zero": false}},
        "y": {"field": "p", "type": "quantitative", "scale": {"domain": [1.28994, 1.36851], "nice": false, "zero": false}},
        "text": {"field": "name", "type": "nominal"},
        "color": {"condition": {"test": "datum.p == 1.3672", "value": "#2a8a55"}, "value": "#d0d000"}
      }
    },
    {
      "data": {"name": "levels"},
      "transform": [{"filter": "datum.p < 1.354"}],
      "mark": {"type": "text", "align": "left", "baseline": "top", "dy": 1.5, "fontSize": 6, "clip": false},
      "encoding": {
        "x": {"datum": 261.6, "type": "quantitative", "scale": {"domain": [-0.4, 355.5], "nice": false, "zero": false}},
        "y": {"field": "p", "type": "quantitative", "scale": {"domain": [1.28994, 1.36851], "nice": false, "zero": false}},
        "text": {"field": "name", "type": "nominal"},
        "color": {"condition": [
          {"test": "datum.p == 1.3428", "value": "#b83030"},
          {"test": "datum.p == 1.3306 || datum.p == 1.3062", "value": "#2a7a2a"},
          {"test": "datum.p == 1.3184", "value": "#2a38d0"}
        ], "value": "#d02020"}
      }
    },
    {
      "data": {"name": "pticks"},
      "mark": {"type": "text", "clip": false, "align": "left", "baseline": "middle", "fontSize": 6, "color": "#d8d8d8"},
      "encoding": {
        "x": {"datum": 356.1, "type": "quantitative", "scale": {"domain": [-0.4, 355.5], "nice": false, "zero": false}},
        "y": {"field": "v", "type": "quantitative", "scale": {"domain": [1.28994, 1.36851], "nice": false, "zero": false}},
        "text": {"field": "v", "type": "quantitative", "format": ".4f"}
      }
    },
    {
      "data": {"name": "tags"},
      "mark": {"type": "rect", "clip": false, "yOffset": -3.5, "y2Offset": 3.5},
      "encoding": {
        "x": {"datum": 355.7, "type": "quantitative", "scale": {"domain": [-0.4, 355.5], "nice": false, "zero": false}},
        "x2": {"datum": 364.4},
        "y": {"field": "p", "type": "quantitative", "scale": {"domain": [1.28994, 1.36851], "nice": false, "zero": false}},
        "y2": {"field": "p"},
        "color": {"condition": [
          {"test": "datum.p == 1.3672", "value": "#00e0f0"},
          {"test": "datum.p == 1.355", "value": "#ffff00"},
          {"test": "datum.p == 1.3306 || datum.p == 1.3062", "value": "#008000"},
          {"test": "datum.p == 1.3184", "value": "#0000ff"}
        ], "value": "#ff0000"}
      }
    },
    {
      "data": {"name": "tags"},
      "mark": {"type": "text", "clip": false, "align": "center", "baseline": "middle", "fontSize": 6},
      "encoding": {
        "x": {"datum": 360.05, "type": "quantitative", "scale": {"domain": [-0.4, 355.5], "nice": false, "zero": false}},
        "y": {"field": "p", "type": "quantitative", "scale": {"domain": [1.28994, 1.36851], "nice": false, "zero": false}},
        "text": {"field": "p", "type": "quantitative", "format": ".4f"},
        "color": {"condition": {"test": "datum.p == 1.3672 || datum.p == 1.355", "value": "#000000"}, "value": "#ffffff"}
      }
    },
    {
      "data": {"name": "one"},
      "mark": {"type": "rule", "clip": false, "strokeWidth": 2, "color": "#ffffff"},
      "encoding": {
        "x": {"datum": 355.5, "type": "quantitative", "scale": {"domain": [-0.4, 355.5], "nice": false, "zero": false}},
        "y": {"datum": 1.3222, "type": "quantitative", "scale": {"domain": [1.28994, 1.36851], "nice": false, "zero": false}},
        "y2": {"datum": 1.3303}
      }
    },
    {
      "data": {"name": "one"},
      "mark": {"type": "text", "clip": false, "align": "left", "baseline": "middle", "fontSize": 6, "color": "#d0d0d0"},
      "encoding": {
        "x": {"datum": 0.5, "type": "quantitative", "scale": {"domain": [-0.4, 355.5], "nice": false, "zero": false}},
        "y": {"datum": 1.3676, "type": "quantitative", "scale": {"domain": [1.28994, 1.36851], "nice": false, "zero": false}},
        "text": {"value": "▾ GBPUSD,H4  1.3413 1.3435 1.3404 1.3426"}
      }
    }
  ]
},
{
  "width": 872,
  "height": 101,
  "layer": [
    {
      "data": {"name": "cci"},
      "mark": {"type": "line", "strokeWidth": 1, "color": "#2fb4b4", "clip": true},
      "encoding": {
        "x": {"field": "i", "type": "quantitative", "scale": {"domain": [-0.4, 355.5], "nice": false, "zero": false},
              "axis": {"orient": "bottom", "values": [8,16,24,32,40,48,56,64,72,80,88,96,104,112,120,128,136,144,152,160,168,176,184,192,200,208,216,224,232,240,248,256,264,272,280,288,296,304,312,320,328,336,344,352], "labels": false, "ticks": false, "domain": false, "grid": true, "title": null}},
        "y": {"field": "v", "type": "quantitative", "scale": {"domain": [-262, 446], "nice": false, "zero": false},
              "axis": {"orient": "right", "values": [250, 200, 100, 0, -100, -200], "labels": false, "ticks": false, "domain": false, "grid": true, "title": null}}
      }
    },
    {
      "data": {"name": "div"},
      "mark": {"type": "line", "strokeWidth": 1.5, "color": "#ff2020", "clip": true},
      "encoding": {
        "x": {"field": "i", "type": "quantitative", "scale": {"domain": [-0.4, 355.5], "nice": false, "zero": false}},
        "y": {"field": "v", "type": "quantitative", "scale": {"domain": [-262, 446], "nice": false, "zero": false}}
      }
    },
    {
      "data": {"name": "cticks"},
      "mark": {"type": "text", "clip": false, "align": "left", "baseline": "middle", "fontSize": 6, "color": "#d8d8d8"},
      "encoding": {
        "x": {"datum": 356.1, "type": "quantitative", "scale": {"domain": [-0.4, 355.5], "nice": false, "zero": false}},
        "y": {"field": "v", "type": "quantitative", "scale": {"domain": [-262, 446], "nice": false, "zero": false}},
        "text": {"field": "t", "type": "nominal"}
      }
    },
    {
      "data": {"name": "one"},
      "mark": {"type": "text", "clip": false, "align": "left", "baseline": "top", "dy": 1, "fontSize": 6, "color": "#d8d8d8"},
      "encoding": {
        "x": {"datum": 356.1, "type": "quantitative", "scale": {"domain": [-0.4, 355.5], "nice": false, "zero": false}},
        "y": {"datum": 446, "type": "quantitative", "scale": {"domain": [-262, 446], "nice": false, "zero": false}},
        "text": {"value": "445.8715"}
      }
    },
    {
      "data": {"name": "one"},
      "mark": {"type": "text", "clip": false, "align": "left", "baseline": "bottom", "fontSize": 6, "color": "#d8d8d8"},
      "encoding": {
        "x": {"datum": 356.1, "type": "quantitative", "scale": {"domain": [-0.4, 355.5], "nice": false, "zero": false}},
        "y": {"datum": -262, "type": "quantitative", "scale": {"domain": [-262, 446], "nice": false, "zero": false}},
        "text": {"value": "-241.757"}
      }
    },
    {
      "data": {"name": "dates"},
      "mark": {"type": "text", "clip": false, "align": "left", "baseline": "top", "dy": 2, "fontSize": 6, "color": "#d8d8d8"},
      "encoding": {
        "x": {"field": "i", "type": "quantitative", "scale": {"domain": [-0.4, 355.5], "nice": false, "zero": false}},
        "y": {"datum": -262, "type": "quantitative", "scale": {"domain": [-262, 446], "nice": false, "zero": false}},
        "text": {"field": "t", "type": "nominal"}
      }
    },
    {
      "data": {"name": "one"},
      "mark": {"type": "text", "clip": false, "align": "left", "baseline": "middle", "fontSize": 6, "color": "#d0d0d0"},
      "encoding": {
        "x": {"datum": 0.5, "type": "quantitative", "scale": {"domain": [-0.4, 355.5], "nice": false, "zero": false}},
        "y": {"datum": 418, "type": "quantitative", "scale": {"domain": [-262, 446], "nice": false, "zero": false}},
        "text": {"value": "X_CCI(30) 88.6368"}
      }
    }
  ]
}
]
}
